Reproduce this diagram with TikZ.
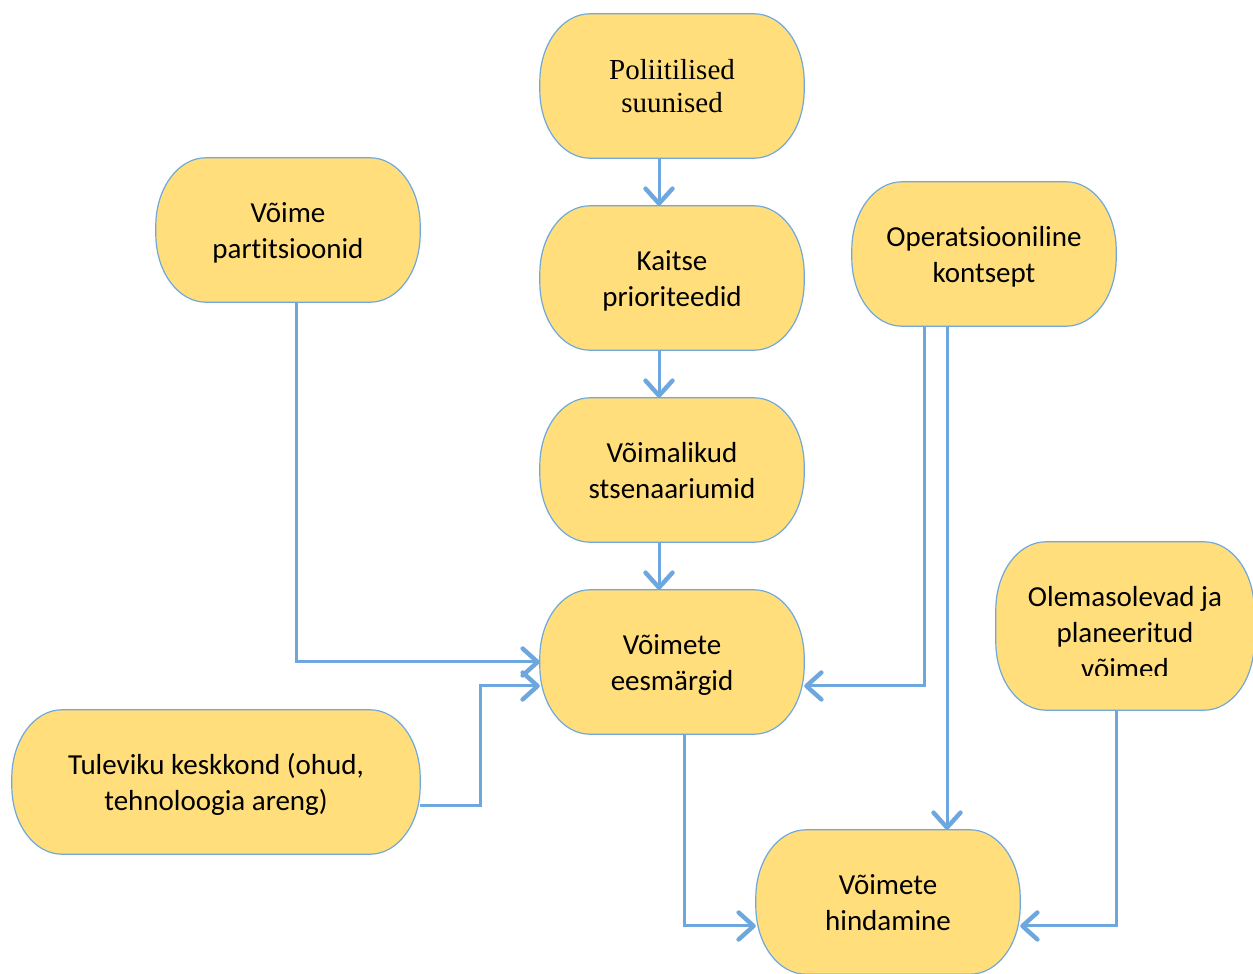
\documentclass[tikz,border=0pt]{standalone}
\usepackage{fontspec}
\setmainfont{Carlito}[Ligatures=NoCommon]
\newfontfamily\timesfont{Liberation Serif}[Ligatures=NoCommon]
\usetikzlibrary{calc,arrows.meta,backgrounds}

\definecolor{boxfill}{HTML}{FFDE7B}
\definecolor{boxline}{HTML}{6FA8DC}
\definecolor{linkcol}{HTML}{6DA7DD}

% corner radii of the box outline
\def\prx{50}
\def\pry{68}

% box with elliptical corners drawn around a named node
\newcommand\drawpill[1]{%
  \path[pillshape] ($(#1.north west)+(\prx,0)$) -- ($(#1.north east)+(-\prx,0)$)
    arc[start angle=90,end angle=0,x radius=\prx,y radius=\pry]
    -- ($(#1.south east)+(0,\pry)$)
    arc[start angle=0,end angle=-90,x radius=\prx,y radius=\pry]
    -- ($(#1.south west)+(\prx,0)$)
    arc[start angle=270,end angle=180,x radius=\prx,y radius=\pry]
    -- ($(#1.north west)+(0,-\pry)$)
    arc[start angle=180,end angle=90,x radius=\prx,y radius=\pry]
    -- cycle;}

\tikzset{
  pillshape/.style={fill=boxfill,draw=boxline,line width=1.2pt},
  box/.style={rectangle,inner sep=0pt,minimum width=264pt,minimum height=144pt,
    align=center,font=\fontsize{29}{36}\selectfont,
    text height=58pt,text depth=0pt},
  link/.style={draw=linkcol,line width=3pt,
    -{Straight Barb[length=15pt,width=27pt,line width=4.4pt,round]}},
}

\begin{document}
\begin{tikzpicture}[x=1pt,y=1pt]
\useasboundingbox (0,0) rectangle (1253,974);

% boxes
\node[box,font=\timesfont\fontsize{29}{33}\selectfont,text height=54pt] (pol) at (672,888) {Poliitilised\\suunised};
\node[box] (kai) at (672,696) {Kaitse\\prioriteedid};
\node[box] (vmk) at (672,504) {Võimalikud\\stsenaariumid};
\node[box] (ees) at (672,312) {Võimete\\eesmärgid};
\node[box] (par) at (288,744) {Võime\\partitsioonid};
\node[box] (ops) at (984,720) {Operatsiooniline\\kontsept};
\node[box,minimum width=258pt,minimum height=168pt] (ole) at (1125,348) {};
\node[box,minimum width=408pt] (tul) at (216,192) {Tuleviku keskkond (ohud,\\tehnoloogia areng)};
\node[box] (hin) at (888,72) {Võimete\\hindamine};

% text of the box on the right, cut off at its lower edge
\begin{scope}
  \clip (990,298.5) rectangle (1253,400);
  \node[box,minimum width=0pt,minimum height=0pt,text height=94pt] (oletxt) at (1125,342)
    {Olemasolevad ja\\planeeritud\\võimed};
\end{scope}

\begin{scope}[on background layer]
  \foreach \n in {pol,kai,vmk,ees,par,ops,ole,tul,hin} {\drawpill{\n}}
\end{scope}

% connectors
\draw[link] ([xshift=-13pt]pol.south) -- ([xshift=-13pt]kai.north);
\draw[link] ([xshift=-13pt]kai.south) -- ([xshift=-13pt]vmk.north);
\draw[link] ([xshift=-13pt]vmk.south) -- ([xshift=-13pt]ees.north);
\draw[link] ([xshift=8pt]par.south) |- (ees.west);
\draw[link] ([yshift=-24pt]tul.east) -- ++(60,0) |- ([yshift=-24pt]ees.west);
\draw[link] ([xshift=-60pt]ops.south) |- ([yshift=-24pt]ees.east);
\draw[link] ([xshift=-37pt]ops.south) -- ([xshift=59pt]hin.north);
\draw[link] ([xshift=12pt]ees.south) |- ([yshift=-24pt]hin.west);
\draw[link] ([xshift=-9pt]ole.south) |- ([yshift=-24pt]hin.east);
\end{tikzpicture}
\end{document}
